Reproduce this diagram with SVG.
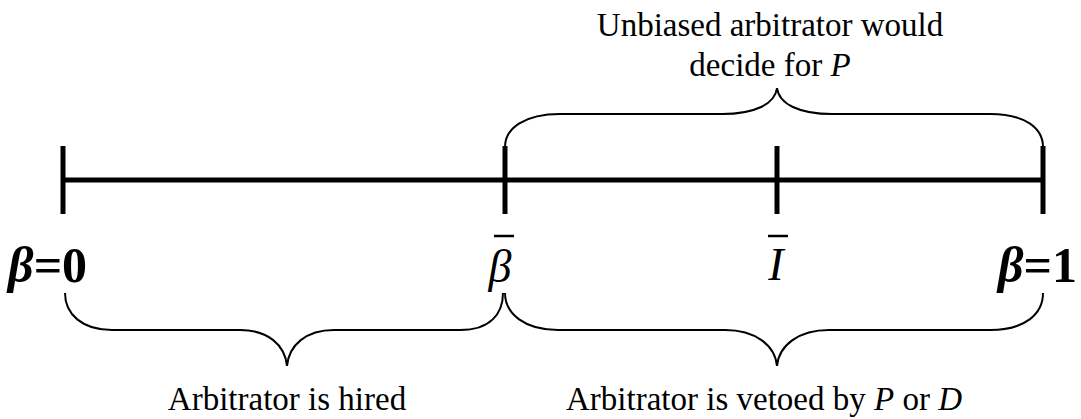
<svg xmlns="http://www.w3.org/2000/svg" width="1081" height="419" viewBox="0 0 1081 419" font-family="Liberation Serif, Times New Roman, DejaVu Serif, serif">
  <style>
    .axis { stroke: #000; stroke-width: 5; fill: none; }
    .tick { stroke: #000; stroke-width: 5; fill: none; }
    .brace { stroke: #000; stroke-width: 2; fill: none; }
    .lbl { font-size: 33px; fill: #000; }
    .end { font-size: 50px; font-weight: bold; fill: #000; }
    .sym { font-size: 46px; font-style: italic; fill: #000; }
    .bar { stroke: #000; stroke-width: 2.5; }
  </style>
  <rect width="1081" height="419" fill="#fff"/>
  <g id="connectors">
    <line class="axis" x1="63" y1="180" x2="1043" y2="180"/>
  </g>
  <g id="tick-0">
    <line class="tick" x1="63" y1="146" x2="63" y2="214"/>
    <text class="end" x="8" y="282" font-family="Liberation Serif, serif"><tspan font-style="italic">β</tspan>=0</text>
  </g>
  <g id="tick-beta-bar">
    <line class="tick" x1="505" y1="146" x2="505" y2="214"/>
    <text class="sym" x="500" y="282" text-anchor="middle" font-family="Liberation Serif, serif">β</text>
    <line class="bar" x1="494" y1="236" x2="514" y2="236"/>
  </g>
  <g id="tick-I-bar">
    <line class="tick" x1="777" y1="146" x2="777" y2="214"/>
    <text class="sym" x="776" y="280" text-anchor="middle" font-family="Liberation Serif, serif">I</text>
    <line class="bar" x1="768" y1="236" x2="788" y2="236"/>
  </g>
  <g id="tick-1">
    <line class="tick" x1="1043" y1="146" x2="1043" y2="214"/>
    <text class="end" x="1077" y="282" text-anchor="end" font-family="Liberation Serif, serif"><tspan font-style="italic">β</tspan>=1</text>
  </g>
  <g id="brace-top">
    <path class="brace" d="M505,147 C505,128 525,114 560,114 L722,114 C755,114 775,104 777,88 C779,104 799,114 832,114 L990,114 C1025,114 1043,128 1043,147"/>
    <text class="lbl" x="770" y="36" text-anchor="middle" font-family="Liberation Serif, serif">Unbiased arbitrator would</text>
    <text class="lbl" x="770" y="76" text-anchor="middle" font-family="Liberation Serif, serif">decide for <tspan font-style="italic">P</tspan></text>
  </g>
  <g id="brace-hired">
    <path class="brace" d="M65,293 C65,314 82,330 112,330 L240,330 C268,330 285,345 287,366 C289,345 306,330 334,330 L460,330 C490,330 503,314 503,293"/>
    <text class="lbl" x="287" y="410" text-anchor="middle" font-family="Liberation Serif, serif">Arbitrator is hired</text>
  </g>
  <g id="brace-vetoed">
    <path class="brace" d="M505,293 C505,314 525,330 558,330 L725,330 C755,330 775,345 777,366 C779,345 799,330 829,330 L990,330 C1025,330 1043,314 1043,293"/>
    <text class="lbl" x="764" y="410" text-anchor="middle" font-family="Liberation Serif, serif">Arbitrator is vetoed by <tspan font-style="italic">P</tspan> or <tspan font-style="italic">D</tspan></text>
  </g>
</svg>
